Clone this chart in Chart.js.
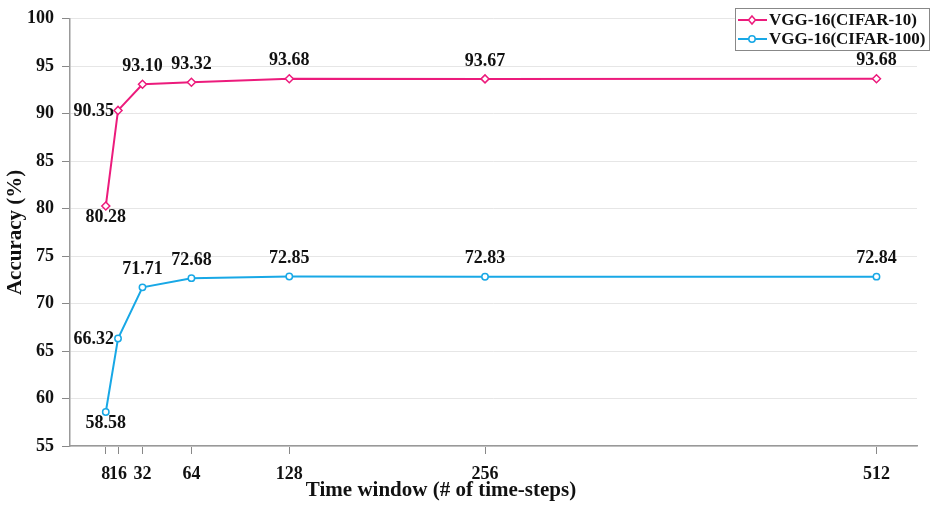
<!DOCTYPE html>
<html>
<head>
<meta charset="utf-8">
<script src="https://cdn.jsdelivr.net/npm/chart.js@4.4.1/dist/chart.umd.min.js"></script>
<style>
  html, body { margin: 0; padding: 0; background: #fff; }
  #wrap { width: 935px; height: 508px; position: relative; }
</style>
</head>
<body>
<div id="wrap"><canvas id="accChart"></canvas></div>
<script>
// data
const timeSteps = [8, 16, 32, 64, 128, 256, 512];
const accCifar10 = [80.28, 90.35, 93.10, 93.32, 93.68, 93.67, 93.68];
const accCifar100 = [58.58, 66.32, 71.71, 72.68, 72.85, 72.83, 72.84];
const yTicks = [55, 60, 65, 70, 75, 80, 85, 90, 95, 100];

// where each value label sits relative to its point
const labelPos10 = ['below', 'left', 'above', 'above', 'above', 'above', 'above'];
const labelPos100 = ['below', 'left', 'above', 'above', 'above', 'above', 'above'];

const PINK = '#ec1b7c';
const CYAN = '#18a8e6';
const SERIF = "'Liberation Serif', 'Times New Roman', serif";
const X_TITLE = 'Time window (# of time-steps)';

const toXY = vals => timeSteps.map((t, i) => ({ x: t, y: vals[i] }));

// value labels next to each point
const valueLabels = {
  id: 'valueLabels',
  afterDatasetsDraw(chart) {
    const ctx = chart.ctx;
    ctx.save();
    ctx.font = 'bold 18px ' + SERIF;
    ctx.fillStyle = '#111';
    chart.data.datasets.forEach((ds, di) => {
      const meta = chart.getDatasetMeta(di);
      meta.data.forEach((pt, i) => {
        const txt = ds.data[i].y.toFixed(2);
        const pos = ds.labelPos[i];
        let x = pt.x, y = pt.y;
        ctx.textBaseline = 'middle';
        if (pos === 'left') { ctx.textAlign = 'right'; x -= 4; y += 1; }
        else if (pos === 'below') { ctx.textAlign = 'center'; y += 11; }
        else { ctx.textAlign = 'center'; y -= 18; }
        ctx.fillText(txt, x, y);
      });
    });
    ctx.restore();
  }
};

// x axis title, sits a bit left of the plot centre in the original
const xTitle = {
  id: 'xTitle',
  afterDraw(chart) {
    const ctx = chart.ctx;
    ctx.save();
    ctx.font = 'bold 21px ' + SERIF;
    ctx.fillStyle = '#111';
    ctx.textAlign = 'center';
    ctx.textBaseline = 'middle';
    ctx.fillText(X_TITLE, 441, 491);
    ctx.restore();
  }
};

// boxed legend in the top right corner
const boxLegend = {
  id: 'boxLegend',
  afterDraw(chart) {
    const ctx = chart.ctx;
    const bx = 735, by = 8, bw = 194, bh = 42;
    ctx.save();
    ctx.fillStyle = '#fff';
    ctx.fillRect(bx, by, bw, bh);
    ctx.strokeStyle = '#888';
    ctx.lineWidth = 1;
    ctx.strokeRect(bx + 0.5, by + 0.5, bw, bh);
    ctx.font = 'bold 17px ' + SERIF;
    ctx.textBaseline = 'middle';
    ctx.textAlign = 'left';
    chart.data.datasets.forEach((ds, i) => {
      const cy = by + 12 + i * 19;
      ctx.strokeStyle = ds.borderColor;
      ctx.lineWidth = 2;
      ctx.beginPath();
      ctx.moveTo(bx + 3, cy);
      ctx.lineTo(bx + 32, cy);
      ctx.stroke();
      const mx = bx + 17;
      ctx.fillStyle = '#fff';
      ctx.lineWidth = 1.5;
      ctx.beginPath();
      if (ds.pointStyle === 'rectRot') {
        ctx.moveTo(mx, cy - 4); ctx.lineTo(mx + 3.5, cy); ctx.lineTo(mx, cy + 4); ctx.lineTo(mx - 3.5, cy); ctx.closePath();
      } else {
        ctx.arc(mx, cy, 3.2, 0, Math.PI * 2);
      }
      ctx.fill();
      ctx.stroke();
      ctx.fillStyle = '#111';
      ctx.fillText(ds.label, bx + 34, cy + 1);
    });
    ctx.restore();
  }
};

new Chart(document.getElementById('accChart'), {
  type: 'line',
  data: {
    datasets: [
      {
        label: 'VGG-16(CIFAR-10)', data: toXY(accCifar10), labelPos: labelPos10,
        borderColor: PINK, backgroundColor: '#fff', borderWidth: 2,
        pointStyle: 'rectRot', pointRadius: 4, pointBorderWidth: 1.5,
        pointBackgroundColor: '#fff', pointBorderColor: PINK, tension: 0
      },
      {
        label: 'VGG-16(CIFAR-100)', data: toXY(accCifar100), labelPos: labelPos100,
        borderColor: CYAN, backgroundColor: '#fff', borderWidth: 2,
        pointStyle: 'circle', pointRadius: 3.2, pointBorderWidth: 1.5,
        pointBackgroundColor: '#fff', pointBorderColor: CYAN, tension: 0
      }
    ]
  },
  options: {
    responsive: true, maintainAspectRatio: false, animation: false,
    layout: { padding: { left: 0, top: 12, right: 18, bottom: 0 } },
    plugins: { legend: { display: false }, tooltip: { enabled: false } },
    scales: {
      x: {
        type: 'linear', min: -15.4, max: 538.5,
        afterBuildTicks: s => { s.ticks = timeSteps.map(v => ({ value: v })); },
        afterFit: s => { s.height = 62; },
        ticks: {
          autoSkip: false, maxRotation: 0, padding: 10, color: '#111',
          font: { family: SERIF, size: 18, weight: 'bold' }
        },
        grid: { drawOnChartArea: false, tickLength: 8, tickColor: '#888', tickWidth: 1 },
        border: { color: '#999', width: 1.5 },
        title: { display: false }
      },
      y: {
        min: 55, max: 100,
        afterBuildTicks: s => { s.ticks = yTicks.map(v => ({ value: v })); },
        afterFit: s => { s.width = 70; },
        ticks: {
          padding: 8, color: '#111',
          font: { family: SERIF, size: 18, weight: 'bold' }
        },
        grid: { color: '#e6e6e6', lineWidth: 1, tickLength: 8, tickColor: '#888', tickWidth: 1 },
        border: { color: '#999', width: 1.5 },
        title: {
          display: true, text: 'Accuracy (%)', color: '#111',
          font: { family: SERIF, size: 21, weight: 'bold' }, padding: { top: 3, bottom: 0 }
        }
      }
    }
  },
  plugins: [valueLabels, xTitle, boxLegend]
});
</script>
</body>
</html>
